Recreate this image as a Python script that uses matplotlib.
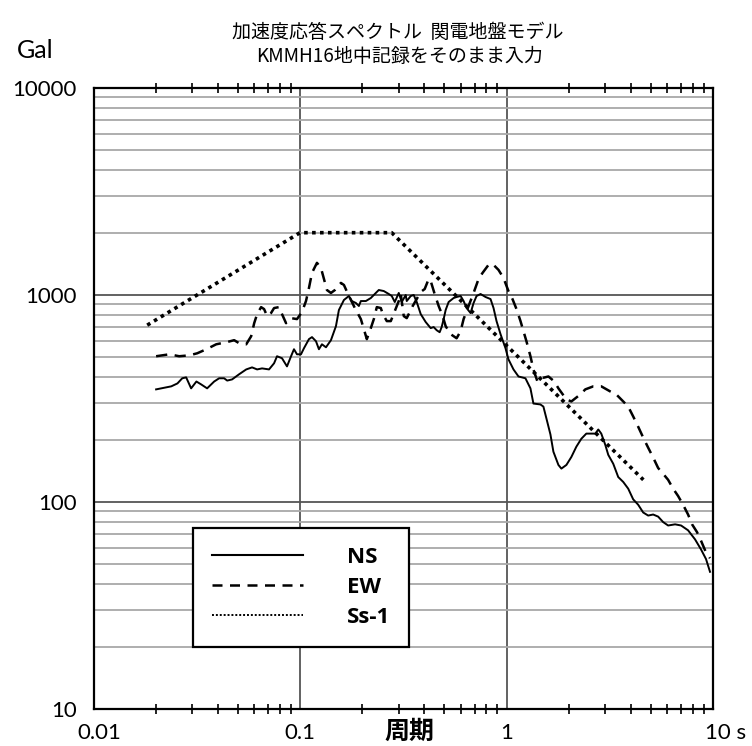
import matplotlib
matplotlib.use('Agg')
import matplotlib.pyplot as plt
from matplotlib.ticker import LogLocator, NullFormatter
from matplotlib.lines import Line2D
import matplotlib.transforms as mtrans

# ---------------- data ----------------
ns_period = [0.0201, 0.0238, 0.0255, 0.0269, 0.0281, 0.0297, 0.0315, 0.0332, 0.0355, 0.0384,
             0.0406, 0.0429, 0.0444, 0.0469, 0.0507, 0.0549, 0.0586, 0.0620, 0.0655, 0.0708,
             0.0749, 0.0774, 0.0818, 0.0865, 0.0905, 0.0935, 0.0967, 0.1011, 0.1045, 0.1105,
             0.1143, 0.1195, 0.1235, 0.1277, 0.1336, 0.1412, 0.1493, 0.1543, 0.1632, 0.1725,
             0.1783, 0.1864, 0.1928, 0.1971, 0.2084, 0.2203, 0.2329, 0.2407, 0.2545, 0.2692,
             0.2782, 0.2877, 0.3008, 0.3110, 0.3251, 0.3288, 0.3438, 0.3554, 0.3675, 0.3842,
             0.4062, 0.4294, 0.4439, 0.4590, 0.4746, 0.4853, 0.4962, 0.5074, 0.5245, 0.5546,
             0.5734, 0.5995, 0.6198, 0.6408, 0.6700, 0.6928, 0.7162, 0.7489, 0.7916, 0.8369,
             0.8654, 0.8948, 0.9355, 0.989, 1.022, 1.081, 1.143, 1.235, 1.306, 1.350,
             1.459, 1.509, 1.561, 1.632, 1.687, 1.784, 1.844, 1.950, 2.061, 2.179,
             2.303, 2.435, 2.574, 2.692, 2.783, 2.877, 3.008, 3.110, 3.288, 3.476,
             3.675, 3.885, 4.107, 4.342, 4.590, 4.853, 5.131, 5.424, 5.734, 6.062,
             6.553, 7.006, 7.573, 8.185, 8.750, 9.252, 9.672]
ns_accel = [350, 362, 374, 396, 400, 354, 382, 370, 354, 382,
            396, 396, 386, 391, 414, 437, 447, 437, 442, 437,
            468, 506, 495, 452, 506, 547, 517, 517, 553, 612,
            626, 598, 547, 578, 559, 605, 707, 846, 946, 989,
            935, 915, 885, 935, 935, 967, 1023, 1057, 1045, 1011,
            989, 925, 1023, 925, 1000, 935, 989, 1000, 925, 809,
            740, 692, 700, 676, 661, 700, 765, 846, 925, 967,
            978, 989, 935, 865, 818, 915, 989, 1011, 978, 956,
            865, 748, 647, 553, 489, 437, 404, 396, 354, 299,
            296, 289, 253, 212, 175, 151, 145, 151, 165, 185,
            202, 214, 214, 214, 224, 214, 189, 169, 153, 132,
            125, 116, 103, 97, 89, 86, 87, 85, 80, 77,
            78, 77, 73, 66, 59, 53, 46]

ew_period = [0.0201, 0.0233, 0.0260, 0.0291, 0.0318, 0.0352, 0.0393, 0.0439, 0.0480, 0.0507,
             0.0549, 0.0580, 0.0600, 0.0620, 0.0648, 0.0670, 0.0693, 0.0724, 0.0749, 0.0792,
             0.0818, 0.0856, 0.0905, 0.0967, 0.1022, 0.1069, 0.1105, 0.1143, 0.1208, 0.1263,
             0.1306, 0.1350, 0.1412, 0.1476, 0.1578, 0.1632, 0.1725, 0.1844, 0.1971, 0.2038,
             0.2107, 0.2203, 0.2278, 0.2355, 0.2462, 0.2518, 0.2632, 0.2752, 0.2877, 0.3008,
             0.3076, 0.3180, 0.3288, 0.3515, 0.3842, 0.4017, 0.4200, 0.4294, 0.4489, 0.4693,
             0.4908, 0.5074, 0.5364, 0.5734, 0.5995, 0.6198, 0.6553, 0.6928, 0.7325, 0.7658,
             0.8185, 0.8557, 0.9148, 0.967, 1.022, 1.069, 1.118, 1.169, 1.208, 1.249,
             1.306, 1.350, 1.412, 1.476, 1.596, 1.706, 1.784, 1.950, 2.061, 2.278,
             2.408, 2.633, 2.877, 3.180, 3.400, 3.675, 3.885, 4.107, 4.342, 4.590,
             4.853, 5.131, 5.424, 5.799, 6.062, 6.410, 6.773, 7.163, 7.573, 7.918,
             8.370, 8.750, 9.252, 9.672]
ew_accel = [506, 517, 506, 511, 523, 547, 578, 591, 605, 585,
            578, 632, 731, 809, 874, 855, 791, 818, 865, 874,
            809, 731, 773, 765, 827, 935, 1081, 1279, 1430, 1352,
            1196, 1057, 1023, 1057, 1144, 1118, 989, 865, 765, 684,
            612, 692, 765, 874, 865, 809, 748, 748, 836, 935,
            1011, 791, 773, 885, 1034, 1069, 1196, 1169, 1011, 885,
            791, 707, 647, 618, 669, 765, 885, 1023, 1196, 1279,
            1399, 1414, 1322, 1209, 1045, 956, 855, 748, 669, 598,
            506, 437, 382, 396, 404, 382, 354, 313, 306, 331,
            350, 362, 362, 342, 331, 306, 289, 259, 231, 205,
            183, 164, 146, 135, 128, 116, 107, 97, 87, 78,
            71.5, 65, 57, 53.5]

ss_period = [0.0182, 0.1, 0.278, 4.6]
ss_accel = [715, 2000, 2000, 128]

x_ticks = [0.01, 0.1, 1, 10]
x_tick_labels = ['0.01', '0.1', '1', '10 s']
y_ticks = [10, 100, 1000, 10000]
y_tick_labels = ['10', '100', '1000', '10000']
series_labels = ['NS', 'EW', 'Ss-1']
title_lines = ['加速度応答スペクトル  関電地盤モデル', 'KMMH16地中記録をそのまま入力']
x_label = '周期'
y_unit = 'Gal'

# ---------------- figure ----------------
plt.rcParams['font.family'] = ['Lato', 'Noto Sans CJK JP', 'DejaVu Sans']
W, H = 752, 746
fig = plt.figure(figsize=(W / 100, H / 100), dpi=100)
ax = fig.add_axes([93.5 / W, (H - 709) / H, (713 - 93.5) / W, (709 - 88) / H])

ax.set_xscale('log')
ax.set_yscale('log')
ax.set_xlim(0.01, 10)
ax.set_ylim(10, 10000)

ax.plot(ns_period, ns_accel, color='black', lw=1.4, ls='-', zorder=3)
ax.plot(ew_period, ew_accel, color='black', lw=1.8, ls=(0, (4.5, 3)), zorder=3)
ax.plot(ss_period, ss_accel, color='black', lw=2.6, ls=(0, (1, 1.2)), zorder=3)

# grid
ax.set_axisbelow(True)
ax.yaxis.set_minor_locator(LogLocator(base=10, subs=range(2, 10)))
ax.yaxis.set_minor_formatter(NullFormatter())
ax.xaxis.set_minor_locator(LogLocator(base=10, subs=range(2, 10)))
ax.xaxis.set_minor_formatter(NullFormatter())
ax.grid(which='minor', axis='y', color='#a8a8a8', lw=1.3)
ax.grid(which='major', axis='both', color='#555555', lw=1.3)

for s in ax.spines.values():
    s.set_linewidth(1.6)
    s.set_color('black')

ax.set_xticks(x_ticks)
ax.set_xticklabels(x_tick_labels, fontsize=16)
ax.set_yticks(y_ticks)
ax.set_yticklabels(y_tick_labels, fontsize=16)
ax.tick_params(which='major', axis='x', length=0, pad=10)
ax.tick_params(which='major', axis='y', length=0, pad=12)
ax.tick_params(which='minor', axis='x', direction='inout', length=7, width=1.2,
               top=True, bottom=True)
ax.tick_params(which='minor', axis='y', length=0)

xl = ax.get_xticklabels()
xl[0].set_transform(xl[0].get_transform() + mtrans.ScaledTranslation(6 / 100, 0, fig.dpi_scale_trans))
xl[-1].set_horizontalalignment('left')
xl[-1].set_transform(xl[-1].get_transform() + mtrans.ScaledTranslation(-8 / 100, 0, fig.dpi_scale_trans))

# legend
handles = [Line2D([], [], color='black', lw=1.5, ls='-'),
           Line2D([], [], color='black', lw=1.8, ls=(0, (4, 3))),
           Line2D([], [], color='black', lw=1.4, ls=(0, (1, 1)))]
leg = ax.legend(handles, series_labels, loc='upper left',
                bbox_to_anchor=((192.7 - 93.5) / 619.5, (709 - 528) / 621),
                borderaxespad=0, frameon=True, fancybox=False, framealpha=1,
                edgecolor='black', prop={'family': 'Open Sans', 'weight': 'bold', 'size': 16},
                handlelength=4.1, handletextpad=2.0, labelspacing=0.4, borderpad=0.85)
leg.get_frame().set_linewidth(1.6)

# texts
fig.text(17 / W, 1 - 51 / H, y_unit, fontsize=18, ha='left', va='center')
fig.text(398 / W, 1 - 32 / H, title_lines[0], fontsize=13.7, ha='center', va='center',
         family=['Noto Sans CJK JP'])
fig.text(400 / W, 1 - 57 / H, title_lines[1], fontsize=13.7, ha='center', va='center',
         family=['Noto Sans CJK JP'])
fig.text(409 / W, 1 - 732 / H, x_label, fontsize=18, weight='bold', ha='center', va='center',
         family=['Noto Sans CJK JP'])

fig.savefig('out.png', dpi=100, facecolor='white')
